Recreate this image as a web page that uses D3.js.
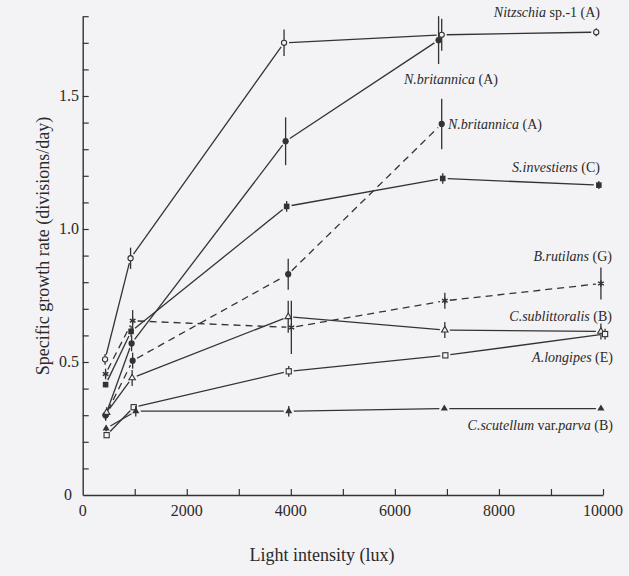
<!DOCTYPE html>
<html>
<head>
<meta charset="utf-8">
<script src="https://cdn.jsdelivr.net/npm/d3@7"></script>
<style>
  html, body { margin: 0; padding: 0; background: #f3f3f5; }
  svg { display: block; }
  text { font-family: "Liberation Serif", "Times New Roman", serif; fill: #2a2a2a; }
</style>
</head>
<body>
<svg id="chart" width="629" height="576"></svg>
<script>
// ---------- data ----------
const xTicks = [0, 2000, 4000, 6000, 8000, 10000];
const yTicks = [0, 0.5, 1.0, 1.5];
const yTickLabels = ["0", "0.5", "1.0", "1.5"];

const nitzschiaX = [430, 920, 3870, 6900, 9870];
const nitzschiaY = [0.51, 0.89, 1.70, 1.73, 1.74];
const nitzschiaE = [0.02, 0.04, 0.05, 0.06, 0.015];

const nbrit1X = [440, 940, 3900, 6840];
const nbrit1Y = [0.30, 0.57, 1.33, 1.71];
const nbrit1E = [0.02, 0.03, 0.09, 0.09];

const nbrit2X = [440, 960, 3950, 6900];
const nbrit2Y = [0.30, 0.505, 0.83, 1.395];
const nbrit2E = [0.02, 0.03, 0.058, 0.095];

const sinvX = [440, 930, 3920, 6920, 9920];
const sinvY = [0.415, 0.615, 1.085, 1.19, 1.165];
const sinvE = [0.01, 0.02, 0.02, 0.02, 0.015];

const brutX = [440, 960, 4010, 6960, 9960];
const brutY = [0.455, 0.655, 0.63, 0.73, 0.795];
const brutE = [0.02, 0.04, 0.10, 0.03, 0.06];

const csubX = [460, 950, 3950, 6960, 9960];
const csubY = [0.31, 0.44, 0.67, 0.62, 0.615];
const csubE = [0.02, 0.03, 0.06, 0.03, 0.03];

const alonX = [460, 980, 3960, 6970, 10040];
const alonY = [0.225, 0.33, 0.465, 0.525, 0.605];
const alonE = [0.01, 0.01, 0.02, 0.01, 0.02];

const cscuX = [450, 1020, 3960, 6950, 9960];
const cscuY = [0.25, 0.315, 0.315, 0.325, 0.325];
const cscuE = [0.01, 0.02, 0.02, 0.005, 0.005];

const series = [
  {x: nitzschiaX, y: nitzschiaY, e: nitzschiaE, marker: "openCircle", dash: false},
  {x: nbrit1X, y: nbrit1Y, e: nbrit1E, marker: "filledCircle", dash: false},
  {x: nbrit2X, y: nbrit2Y, e: nbrit2E, marker: "filledCircle", dash: true},
  {x: sinvX, y: sinvY, e: sinvE, marker: "filledSquare", dash: false},
  {x: brutX, y: brutY, e: brutE, marker: "star", dash: true},
  {x: csubX, y: csubY, e: csubE, marker: "openTriangle", dash: false},
  {x: alonX, y: alonY, e: alonE, marker: "openSquare", dash: false},
  {x: cscuX, y: cscuY, e: cscuE, marker: "filledTriangle", dash: false}
];

// labels: [text, italic?] segments
const labels = [
  {parts: [["Nitzschia", true], [" sp.-1 (A)", false]], x: 600, y: 17},
  {parts: [["N.britannica", true], [" (A)", false]], x: 498, y: 84},
  {parts: [["N.britannica", true], [" (A)", false]], x: 542, y: 129},
  {parts: [["S.investiens", true], [" (C)", false]], x: 600, y: 172},
  {parts: [["B.rutilans", true], [" (G)", false]], x: 612, y: 261},
  {parts: [["C.sublittoralis", true], [" (B)", false]], x: 612, y: 321},
  {parts: [["A.longipes", true], [" (E)", false]], x: 613, y: 362},
  {parts: [["C.scutellum", true], [" var.", false], ["parva", true], [" (B)", false]], x: 613, y: 430}
];

// ---------- drawing ----------
const svg = d3.select("#chart");
const ink = "#333333";
const bg = "#f3f3f5";

const x = d3.scaleLinear().domain([0, 10000]).range([82.7, 603]);
const y = d3.scaleLinear().domain([0, 1.8]).range([495, 16.2]);

// axes
const xAxis = d3.axisBottom(x).tickValues(d3.range(0, 10001, 1000))
  .tickSize(-6).tickSizeOuter(0).tickFormat("");
const gx = svg.append("g").attr("transform", `translate(0,${y(0)})`).call(xAxis);
gx.selectAll("line").attr("stroke", ink).attr("stroke-width", 1.2);
gx.select(".domain").attr("stroke", ink).attr("stroke-width", 1.4);
gx.selectAll(".tick").filter(d => d === 0).remove();

const yAxis = d3.axisLeft(y).tickValues(d3.range(0, 1.81, 0.1).map(v => +v.toFixed(2)))
  .tickSize(-6).tickSizeOuter(0).tickFormat("");
const gy = svg.append("g").attr("transform", `translate(${x(0)},0)`).call(yAxis);
gy.selectAll("line").attr("stroke", ink).attr("stroke-width", 1.2);
gy.select(".domain").attr("stroke", ink).attr("stroke-width", 1.4);
gy.selectAll(".tick").filter(d => d === 0).remove();

// tick labels
svg.append("g").selectAll("text").data(xTicks).join("text")
  .attr("x", d => x(d)).attr("y", y(0) + 21)
  .attr("text-anchor", "middle").attr("font-size", 16).text(d => d);
svg.append("g").selectAll("text").data(yTicks).join("text")
  .attr("x", (d, i) => i === 0 ? 72 : 79).attr("y", d => y(d) + 5)
  .attr("text-anchor", "end").attr("font-size", 16).text((d, i) => yTickLabels[i]);

// axis titles
svg.append("text").attr("x", 322).attr("y", 561).attr("text-anchor", "middle")
  .attr("font-size", 18).text("Light intensity (lux)");
svg.append("text").attr("transform", "translate(49,246) rotate(-90)")
  .attr("text-anchor", "middle").attr("font-size", 18)
  .text("Specific growth rate (divisions/day)");

// lines with gaps near markers
const gap = 5;
series.forEach(s => {
  const g = svg.append("g");
  for (let i = 0; i < s.x.length - 1; i++) {
    const x1 = x(s.x[i]), y1 = y(s.y[i]), x2 = x(s.x[i + 1]), y2 = y(s.y[i + 1]);
    const len = Math.hypot(x2 - x1, y2 - y1);
    const ux = (x2 - x1) / len, uy = (y2 - y1) / len;
    g.append("line")
      .attr("x1", x1 + ux * gap).attr("y1", y1 + uy * gap)
      .attr("x2", x2 - ux * gap).attr("y2", y2 - uy * gap)
      .attr("stroke", ink).attr("stroke-width", 1.3)
      .attr("stroke-dasharray", s.dash ? "7,5" : null);
  }
  // error bars
  s.x.forEach((xv, i) => {
    g.append("line")
      .attr("x1", x(xv)).attr("x2", x(xv))
      .attr("y1", y(s.y[i] + s.e[i])).attr("y2", y(s.y[i] - s.e[i]))
      .attr("stroke", ink).attr("stroke-width", 1.3);
  });
  // markers
  s.x.forEach((xv, i) => {
    const cx = x(xv), cy = y(s.y[i]);
    const m = s.marker;
    if (m === "openCircle") {
      g.append("circle").attr("cx", cx).attr("cy", cy).attr("r", 2.6)
        .attr("fill", bg).attr("stroke", ink).attr("stroke-width", 1.1);
    } else if (m === "filledCircle") {
      g.append("circle").attr("cx", cx).attr("cy", cy).attr("r", 3.1).attr("fill", ink);
    } else if (m === "filledSquare") {
      g.append("rect").attr("x", cx - 2.8).attr("y", cy - 2.8).attr("width", 5.6).attr("height", 5.6).attr("fill", ink);
    } else if (m === "openSquare") {
      g.append("rect").attr("x", cx - 2.6).attr("y", cy - 2.6).attr("width", 5.2).attr("height", 5.2)
        .attr("fill", bg).attr("stroke", ink).attr("stroke-width", 1.1);
    } else if (m === "openTriangle") {
      g.append("path").attr("d", d3.symbol(d3.symbolTriangle, 18)())
        .attr("transform", `translate(${cx},${cy})`)
        .attr("fill", bg).attr("stroke", ink).attr("stroke-width", 1.1);
    } else if (m === "filledTriangle") {
      g.append("path").attr("d", d3.symbol(d3.symbolTriangle, 22)())
        .attr("transform", `translate(${cx},${cy})`).attr("fill", ink);
    } else if (m === "star") {
      g.append("path").attr("d", d3.symbol(d3.symbolAsterisk, 30)())
        .attr("transform", `translate(${cx},${cy})`)
        .attr("fill", "none").attr("stroke", ink).attr("stroke-width", 1.4);
    }
  });
});

// series labels
labels.forEach(l => {
  const t = svg.append("text").attr("x", l.x).attr("y", l.y)
    .attr("text-anchor", "end").attr("font-size", 14);
  l.parts.forEach(p => {
    t.append("tspan").attr("font-style", p[1] ? "italic" : "normal").text(p[0]);
  });
});
</script>
</body>
</html>
